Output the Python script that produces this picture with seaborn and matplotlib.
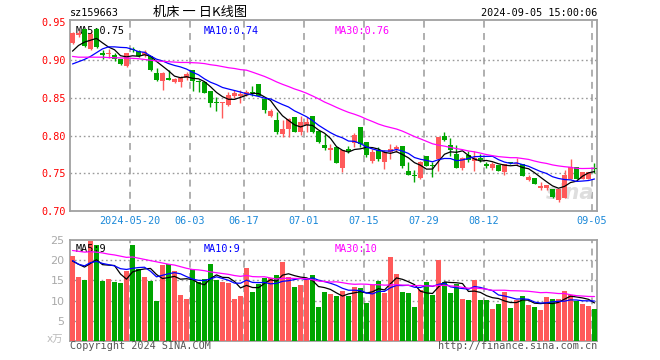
import numpy as np
import pandas as pd
import seaborn as sns
import matplotlib
matplotlib.use("Agg")
import matplotlib.pyplot as plt

# ------------------------------------------------------------
# 机床ETF 159663 日K线 (2024-05-06 ~ 2024-09-05)
# ------------------------------------------------------------
opens = [0.9225, 0.934, 0.941, 0.915, 0.941, 0.9097, 0.908, 0.9066, 0.9013, 0.8925,
         0.915, 0.9124, 0.9066, 0.9053, 0.8832, 0.8726, 0.875, 0.8712, 0.8712, 0.877,
         0.8876, 0.8726, 0.8712, 0.8593, 0.8442, 0.8438, 0.8403, 0.8527, 0.8531, 0.8545,
         0.8572, 0.8682, 0.8483, 0.8262, 0.8213, 0.8019, 0.8085, 0.8244, 0.8045, 0.8138,
         0.8257, 0.8063, 0.7881, 0.7806, 0.785, 0.7564, 0.782, 0.7903, 0.8111, 0.7912,
         0.7665, 0.7806, 0.7652, 0.7776, 0.782, 0.786, 0.7532, 0.747, 0.7435, 0.7727,
         0.7607, 0.769, 0.7996, 0.7877, 0.7757, 0.7565, 0.774, 0.7665, 0.770, 0.7612,
         0.7564, 0.7607, 0.752, 0.7635, 0.7621, 0.7617, 0.7408, 0.7444, 0.7307, 0.7307,
         0.7289, 0.7143, 0.7166, 0.7431, 0.7585, 0.7431, 0.7422, 0.7568]
highs = [0.937, 0.9407, 0.942, 0.939, 0.943, 0.914, 0.9155, 0.9097, 0.9013, 0.9097,
         0.9175, 0.9135, 0.9133, 0.9053, 0.889, 0.884, 0.8867, 0.877, 0.8792, 0.885,
         0.8876, 0.8735, 0.8712, 0.8593, 0.8514, 0.845, 0.858, 0.860, 0.861, 0.861,
         0.8655, 0.8682, 0.8483, 0.835, 0.8315, 0.8204, 0.824, 0.8244, 0.8257, 0.8248,
         0.8257, 0.8063, 0.8018, 0.7886, 0.785, 0.7806, 0.7863, 0.804, 0.8115, 0.7912,
         0.7816, 0.785, 0.7806, 0.7886, 0.7873, 0.786, 0.765, 0.755, 0.7668, 0.7727,
         0.765, 0.7983, 0.805, 0.797, 0.7873, 0.772, 0.779, 0.7793, 0.7762, 0.765,
         0.765, 0.7607, 0.7625, 0.7652, 0.7705, 0.7617, 0.7475, 0.7444, 0.7386, 0.7342,
         0.7289, 0.7298, 0.7541, 0.7696, 0.7585, 0.7519, 0.7519, 0.763]
lows = [0.9216, 0.931, 0.918, 0.914, 0.9165, 0.901, 0.903, 0.8987, 0.8934, 0.891,
        0.911, 0.904, 0.9036, 0.8854, 0.872, 0.860, 0.8735, 0.870, 0.8646, 0.8735,
        0.859, 0.858, 0.8566, 0.838, 0.8328, 0.824, 0.8394, 0.8505, 0.8434, 0.8523,
        0.8523, 0.8523, 0.830, 0.8251, 0.8018, 0.7983, 0.7983, 0.8045, 0.8005, 0.805,
        0.8028, 0.7904, 0.7806, 0.7674, 0.763, 0.7519, 0.777, 0.785, 0.785, 0.771,
        0.7638, 0.7665, 0.7558, 0.7696, 0.7784, 0.7564, 0.7475, 0.7386, 0.7418, 0.7594,
        0.7453, 0.7537, 0.7925, 0.7725, 0.7564, 0.754, 0.765, 0.7532, 0.765, 0.7564,
        0.7545, 0.7532, 0.7475, 0.7617, 0.761, 0.7466, 0.7395, 0.7355, 0.7276, 0.7276,
        0.7166, 0.7121, 0.7166, 0.7431, 0.7431, 0.7431, 0.7422, 0.7505]
closes = [0.936, 0.9367, 0.919, 0.935, 0.9177, 0.9066, 0.909, 0.901, 0.8956, 0.9097,
          0.914, 0.9057, 0.911, 0.8867, 0.8744, 0.8832, 0.8744, 0.8757, 0.876, 0.8814,
          0.8726, 0.871, 0.8566, 0.8426, 0.8434, 0.8445, 0.8536, 0.8562, 0.8558, 0.858,
          0.8567, 0.8523, 0.8337, 0.8324, 0.8045, 0.8085, 0.8217, 0.8045, 0.8182, 0.8182,
          0.805, 0.7912, 0.7833, 0.7837, 0.7638, 0.7806, 0.7793, 0.8005, 0.7882, 0.774,
          0.7784, 0.7696, 0.7784, 0.782, 0.785, 0.7594, 0.7475, 0.7466, 0.7647, 0.7594,
          0.760, 0.7983, 0.7939, 0.7806, 0.7564, 0.770, 0.767, 0.7705, 0.7674, 0.7603,
          0.7617, 0.7532, 0.7617, 0.763, 0.7638, 0.7466, 0.7453, 0.7355, 0.7329, 0.7342,
          0.7187, 0.7298, 0.7475, 0.7585, 0.7431, 0.7519, 0.7519, 0.756]
# 成交量 (万手)
volumes = [21.0, 15.9, 15.1, 24.8, 23.8, 14.9, 15.3, 14.6, 14.3, 17.4,
           23.8, 17.8, 15.9, 14.9, 9.9, 18.8, 19.0, 17.4, 11.4, 10.5,
           17.7, 14.7, 15.3, 19.1, 15.0, 14.7, 14.4, 10.5, 11.1, 18.1,
           12.1, 14.2, 15.7, 15.7, 16.3, 19.6, 15.9, 13.4, 13.9, 15.4,
           16.3, 8.4, 12.1, 11.6, 11.1, 12.4, 11.1, 13.4, 13.1, 9.4,
           13.9, 14.9, 11.9, 20.8, 16.6, 12.1, 11.9, 8.4, 12.6, 14.5,
           11.4, 20.0, 14.6, 11.9, 14.2, 10.4, 10.2, 15.1, 10.2, 10.2,
           7.9, 9.2, 12.1, 8.2, 10.2, 11.1, 8.9, 8.4, 7.7, 10.9,
           10.4, 10.4, 12.4, 11.4, 9.9, 9.2, 8.7, 7.9]

# 均线开头几天(依赖图外的历史数据, 从图上读)
ma5_head = [0.912, 0.9195, 0.924, 0.9265]
ma10_head = [0.895, 0.898, 0.901, 0.905, 0.910, 0.915, 0.9177, 0.9177, 0.917]
ma30_head = [0.905, 0.904, 0.904, 0.904, 0.904, 0.904, 0.9035, 0.9033, 0.903, 0.9028,
             0.9025, 0.902, 0.901, 0.900, 0.899, 0.8985, 0.898, 0.8975, 0.897, 0.897,
             0.8967, 0.8963, 0.8955, 0.894, 0.893, 0.8915, 0.890, 0.889, 0.8875]
vma5_head = [19.8, 19.0, 18.3, 19.2]
vma10_head = [19.9, 19.0, 18.6, 19.4, 19.7, 19.2, 18.9, 18.6, 17.9]
vma30_head = [22.4, 22.2, 22.0, 22.1, 22.0, 21.8, 21.5, 21.3, 21.0, 20.7,
              20.8, 20.5, 20.2, 19.9, 19.6, 19.3, 19.0, 18.8, 18.4, 18.0,
              17.7, 17.6, 17.4, 17.1, 16.9, 16.7, 16.5, 16.2, 16.0]

tick_idx = [10, 20, 29, 39, 49, 59, 69, 87]
tick_labels = ['2024-05-20', '06-03', '06-17', '07-01', '07-15', '07-29', '08-12', '09-05']
price_ticks = [0.70, 0.75, 0.80, 0.85, 0.90, 0.95]
vol_ticks = [5, 10, 15, 20, 25]

RED = '#ff5a5a'
GREEN = '#00a500'
GRID = '#9a9a9a'
SPINE = '#a0a0a0'


def moving_average(values, n, head):
    ma = pd.Series(values).rolling(n).mean().to_numpy()
    ma[:len(head)] = head
    return ma


df = pd.DataFrame({'open': opens, 'high': highs, 'low': lows, 'close': closes, 'vol': volumes})
df['idx'] = np.arange(len(df))
df['color'] = np.where(df['close'] >= df['open'], RED, GREEN)
df['ma5'] = moving_average(closes, 5, ma5_head)
df['ma10'] = moving_average(closes, 10, ma10_head)
df['ma30'] = moving_average(closes, 30, ma30_head)
df['vma5'] = moving_average(volumes, 5, vma5_head)
df['vma10'] = moving_average(volumes, 10, vma10_head)
df['vma30'] = moving_average(volumes, 30, vma30_head)

sns.set_style('white')
plt.rcParams['font.family'] = ['DejaVu Sans Mono', 'Noto Sans CJK SC']

W, H = 660, 360
fig = plt.figure(figsize=(W / 100, H / 100), dpi=100)
ax1 = fig.add_axes([70 / W, 1 - 211 / H, 527 / W, 191 / H])
ax2 = fig.add_axes([70 / W, 1 - 341 / H, 527 / W, 101 / H])

xmin, xmax = -2.5 / 6, 87 + 2.5 / 6
grid_x = [i - 2.5 / 6 for i in tick_idx]

# ---------------- K线 ----------------
body_h = (df['close'] - df['open']).abs().clip(lower=0.0014)
body_b = df[['open', 'close']].min(axis=1)
ax1.vlines(df['idx'], df['low'], df['high'], color=df['color'], linewidth=1, zorder=3)
ax1.bar(df['idx'], body_h, bottom=body_b, width=5 / 6, color=df['color'], linewidth=0, zorder=4)

sns.lineplot(data=df, x='idx', y='ma5', ax=ax1, color='black', linewidth=0.9, zorder=5)
sns.lineplot(data=df, x='idx', y='ma10', ax=ax1, color='#0000ff', linewidth=0.9, zorder=5)
sns.lineplot(data=df, x='idx', y='ma30', ax=ax1, color='#ff00ff', linewidth=0.9, zorder=5)

ax1.set_xlim(xmin, xmax)
ax1.set_ylim(0.70, 0.70 + 191 / 754)
for p in price_ticks[1:-1]:
    ax1.axhline(p, color=GRID, linestyle=(0, (1.2, 2)), linewidth=1, zorder=2)
for gx in grid_x:
    ax1.axvline(gx, color=GRID, linestyle=(0, (4.5, 3.5)), linewidth=1.1, zorder=2)
ax1.set_yticks(price_ticks)
ax1.set_yticklabels([f'{p:.2f}' for p in price_ticks])
ax1.tick_params(axis='y', length=0, pad=3, labelcolor='red', labelsize=7.3)
ax1.set_xticks(grid_x)
ax1.set_xticklabels(tick_labels)
ax1.tick_params(axis='x', length=0, pad=3.5, labelcolor='#1a88d8', labelsize=7.3)
ax1.set_xlabel('')
ax1.set_ylabel('')

ax1.text(0.01, 0.97, 'MA5:0.75', transform=ax1.transAxes, color='black',
         fontsize=7.3, va='top', ha='left')
ax1.text((204 - 70) / 527, 0.97, 'MA10:0.74', transform=ax1.transAxes, color='#0000ff',
         fontsize=7.3, va='top', ha='left')
ax1.text((335 - 70) / 527, 0.97, 'MA30:0.76', transform=ax1.transAxes, color='#ff00ff',
         fontsize=7.3, va='top', ha='left')
ax1.text(0.995, 0.04, 'sina', transform=ax1.transAxes, color='#dedede', fontsize=15,
         fontweight='bold', fontstyle='italic', family=['DejaVu Sans'], ha='right',
         va='bottom', zorder=2)

# ---------------- 成交量 ----------------
ax2.bar(df['idx'], df['vol'], width=5 / 6, color=df['color'], linewidth=0, zorder=3)
sns.lineplot(data=df, x='idx', y='vma5', ax=ax2, color='black', linewidth=0.9, zorder=5)
sns.lineplot(data=df, x='idx', y='vma10', ax=ax2, color='#0000ff', linewidth=0.9, zorder=5)
sns.lineplot(data=df, x='idx', y='vma30', ax=ax2, color='#ff00ff', linewidth=0.9, zorder=5)

ax2.set_xlim(xmin, xmax)
ax2.set_ylim(0, 101 / 4.04)
for v in vol_ticks[:-1]:
    ax2.axhline(v, color=GRID, linestyle=(0, (1.2, 2)), linewidth=1, zorder=2)
for gx in grid_x:
    ax2.axvline(gx, color=GRID, linestyle=(0, (4.5, 3.5)), linewidth=1.1, zorder=2)
ax2.set_xticks([])
ax2.set_yticks(vol_ticks)
ax2.set_yticklabels([str(v) for v in vol_ticks], family=['DejaVu Sans'])
ax2.tick_params(axis='y', length=0, pad=4, labelcolor='#aaaaaa', labelsize=8)
ax2.set_xlabel('')
ax2.set_ylabel('')

ax2.text(0.01, 0.96, 'MA5:9', transform=ax2.transAxes, color='black',
         fontsize=7.3, va='top', ha='left')
ax2.text((204 - 70) / 527, 0.96, 'MA10:9', transform=ax2.transAxes, color='#0000ff',
         fontsize=7.3, va='top', ha='left')
ax2.text((335 - 70) / 527, 0.96, 'MA30:10', transform=ax2.transAxes, color='#ff00ff',
         fontsize=7.3, va='top', ha='left')

for ax in (ax1, ax2):
    for s in ax.spines.values():
        s.set_color(SPINE)
        s.set_linewidth(1.3)

# ---------------- 文字 ----------------
def px(x, y):
    return x / W, 1 - y / H

fig.text(*px(70, 13), 'sz159663', fontsize=7.3, ha='left', va='center', color='black')
fig.text(*px(200, 12.5), '机床 一 日K线图', fontsize=9.5, ha='center', va='center',
         color='black', family=['Noto Sans CJK SC'])
fig.text(*px(597, 13), '2024-09-05 15:00:06', fontsize=7.3, ha='right', va='center',
         color='black')
fig.text(*px(63, 340), 'x万', fontsize=7.5, ha='right', va='center', color='#bbbbbb',
         family=['DejaVu Sans', 'Noto Sans CJK SC'])
fig.text(*px(70, 346), 'Copyright 2024 SINA.COM', fontsize=7.3, ha='left', va='center',
         color='#555555')
fig.text(*px(597, 346), 'http://finance.sina.com.cn', fontsize=7.3, ha='right',
         va='center', color='#555555')

fig.savefig('out.png', dpi=100, facecolor='white')
